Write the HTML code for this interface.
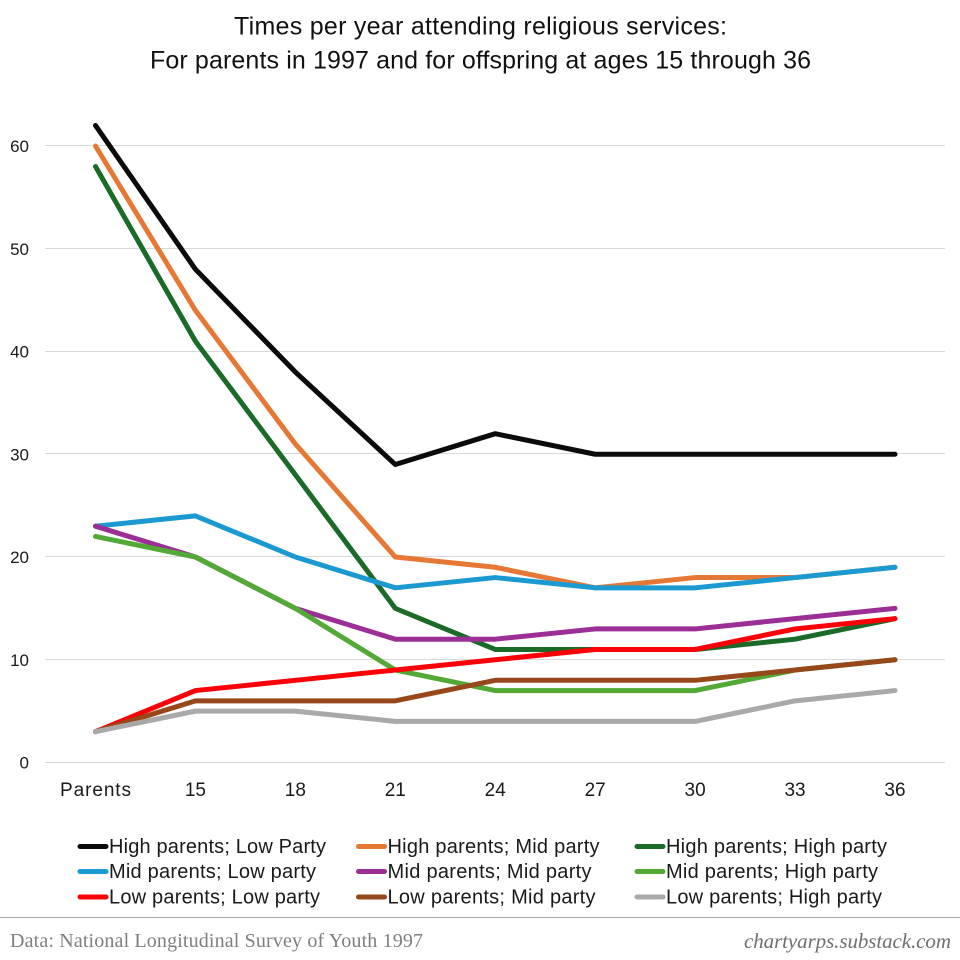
<!DOCTYPE html>
<html>
<head>
<meta charset="utf-8">
<title>Times per year attending religious services</title>
<style>
html,body{margin:0;padding:0;background:#fff;}
svg{display:block;}
text{font-family:"Liberation Sans",sans-serif;}
</style>
</head>
<body>
<svg id="chart" xmlns="http://www.w3.org/2000/svg" width="960" height="960" viewBox="0 0 960 960">
  <rect x="0" y="0" width="960" height="960" fill="#fff"/>
  <text x="480.5" y="34.5" text-anchor="middle" font-size="25" fill="#111" textLength="493" lengthAdjust="spacing">Times per year attending religious services:</text>
  <text x="480.5" y="68.5" text-anchor="middle" font-size="25" fill="#111" textLength="661" lengthAdjust="spacing">For parents in 1997 and for offspring at ages 15 through 36</text>
  <g id="grid"></g>
  <g id="ylabels"></g>
  <g id="xlabels"></g>
  <g id="lines"></g>
  <g id="legend"></g>
  <line x1="0" x2="960" y1="917.5" y2="917.5" stroke="#a8a8a8" stroke-width="1"/>
  <text x="10" y="947" font-size="20" fill="#7f7f7f" style="font-family:'Liberation Serif',serif" textLength="413" lengthAdjust="spacing">Data: National Longitudinal Survey of Youth 1997</text>
  <text x="744" y="948" font-size="21" font-style="italic" fill="#6f6f6f" style="font-family:'Liberation Serif',serif" textLength="207" lengthAdjust="spacing">chartyarps.substack.com</text>
</svg>
<script>
const categories = ['Parents', '15', '18', '21', '24', '27', '30', '33', '36'];
const yTicks = [0, 10, 20, 30, 40, 50, 60];

const seriesNames = [
  'High parents; Low Party', 'High parents; Mid party', 'High parents; High party',
  'Mid parents; Low party', 'Mid parents; Mid party', 'Mid parents; High party',
  'Low parents; Low party', 'Low parents; Mid party', 'Low parents; High party'
];
const seriesColors = ['#0b0b0b', '#e57835', '#1a6a28', '#1b9ad2', '#9c2f96', '#52a935', '#fb0007', '#96481a', '#a9a9a9'];

const highLow = [62, 48, 38, 29, 32, 30, 30, 30, 30];
const highMid = [60, 44, 31, 20, 19, 17, 18, 18, 19];
const highHigh = [58, 41, 28, 15, 11, 11, 11, 12, 14];
const midLow = [23, 24, 20, 17, 18, 17, 17, 18, 19];
const midMid = [23, 20, 15, 12, 12, 13, 13, 14, 15];
const midHigh = [22, 20, 15, 9, 7, 7, 7, 9, 10];
const lowLow = [3, 7, 8, 9, 10, 11, 11, 13, 14];
const lowMid = [3, 6, 6, 6, 8, 8, 8, 9, 10];
const lowHigh = [3, 5, 5, 4, 4, 4, 4, 6, 7];
const seriesValues = [highLow, highMid, highHigh, midLow, midMid, midHigh, lowLow, lowMid, lowHigh];

const NS = 'http://www.w3.org/2000/svg';
function xScale(i) { return 95.5 + i * (799.5 / (categories.length - 1)); }
function yScale(v) { return 762.5 - v * (616.5 / 60); }
function make(tag, attrs, parent, content) {
  const el = document.createElementNS(NS, tag);
  for (const k in attrs) el.setAttribute(k, attrs[k]);
  if (content !== undefined) el.textContent = content;
  parent.appendChild(el);
  return el;
}
function slug(s) { return s.toLowerCase().replace(/[^a-z0-9]+/g, '-'); }

const gridG = document.getElementById('grid');
const yG = document.getElementById('ylabels');
yTicks.forEach(function (t) {
  const y = Math.round(yScale(t)) - 0.5;
  const line = make('line', { x1: 45, x2: 945, y1: y, y2: y, stroke: '#d9d9d9', 'stroke-width': 1 }, gridG);
  
  
  const label = make('text', { x: 29, y: yScale(t) + 6, 'text-anchor': 'end', 'font-size': 17, fill: '#1a1a1a' }, yG, String(t));
  
  
});

const xG = document.getElementById('xlabels');
categories.forEach(function (c, i) {
  const label = make('text', { x: xScale(i), y: 796, 'text-anchor': 'middle', 'font-size': 19, fill: '#1a1a1a' }, xG, c);
  
  
  if (c === 'Parents') {
    label.setAttribute('textLength', 71);
    label.setAttribute('lengthAdjust', 'spacing');
  }
});

const linesG = document.getElementById('lines');
seriesValues.forEach(function (vals, s) {
  const pts = vals.map(function (v, i) { return xScale(i) + ',' + yScale(v); }).join(' ');
  const line = make('polyline', { points: pts, fill: 'none', stroke: seriesColors[s], 'stroke-width': 5, 'stroke-linecap': 'round', 'stroke-linejoin': 'round' }, linesG);
  
  
});

const legendG = document.getElementById('legend');
const legendCols = [78, 356.5, 635];
const legendRows = [846.5, 871.5, 897];
const legendWidths = [217, 212, 221, 207, 204, 212, 211, 208, 216];
seriesNames.forEach(function (name, s) {
  const col = s % 3, row = Math.floor(s / 3);
  const x = legendCols[col], y = legendRows[row];
  const swatch = make('line', { x1: x + 2, x2: x + 28, y1: y, y2: y, stroke: seriesColors[s], 'stroke-width': 5, 'stroke-linecap': 'round' }, legendG);
  
  
  const label = make('text', { x: x + 31, y: y + 6.5, 'font-size': 20, fill: '#1a1a1a', textLength: legendWidths[s], lengthAdjust: 'spacing' }, legendG, name);
  
  
});
</script>
</body>
</html>
